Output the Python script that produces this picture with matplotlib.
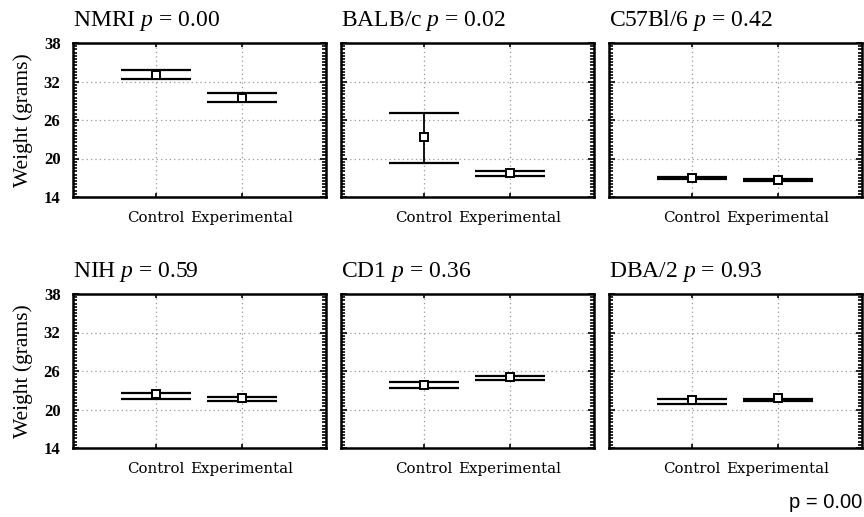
import matplotlib
matplotlib.use("Agg")
import matplotlib.pyplot as plt
from matplotlib.ticker import MultipleLocator, FixedLocator

plt.rcParams['mathtext.fontset'] = 'custom'
plt.rcParams['mathtext.rm'] = 'Liberation Serif'
plt.rcParams['mathtext.it'] = 'Liberation Serif:italic'

strains = ["NMRI", "BALB/c", "C57Bl/6", "NIH", "CD1", "DBA/2"]
pvalues = ["0.00", "0.02", "0.42", "0.59", "0.36", "0.93"]
groups = ["Control", "Experimental"]
means = [[33.0, 29.5], [23.4, 17.7], [16.9, 16.65], [22.35, 21.8], [23.85, 25.05], [21.45, 21.75]]
upper = [[33.8, 30.15], [27.15, 18.05], [17.05, 16.8], [22.6, 22.0], [24.3, 25.25], [21.6, 21.6]]
lower = [[32.35, 28.85], [19.25, 17.35], [16.8, 16.55], [21.6, 21.3], [23.4, 24.55], [20.85, 21.4]]
yticks = [14, 20, 26, 32, 38]
overall_p = "p = 0.00"

fig = plt.figure(figsize=(8.64, 5.17), dpi=100)
W, H = 864, 517
lefts = [73, 341, 609]
tops = [43, 294]
aw, ah = 253, 154

for i, strain in enumerate(strains):
    r, c = divmod(i, 3)
    ax = fig.add_axes([lefts[c] / W, 1 - (tops[r] + ah) / H, aw / W, ah / H])
    x = list(range(len(groups)))
    ax.set_xlim(-0.965, 1.975)
    ax.set_ylim(14, 38)
    ax.yaxis.set_major_locator(FixedLocator(yticks))
    ax.yaxis.set_minor_locator(MultipleLocator(0.5))
    ax.set_xticks(x)
    ax.set_xticklabels(groups, family='DejaVu Serif', fontsize=10.8)
    if c == 0:
        ax.set_yticklabels([str(t) for t in yticks], family='Liberation Serif',
                           fontsize=12, fontweight='bold')
        ax.set_ylabel("Weight (grams)", family='Liberation Serif', fontsize=15.5, labelpad=8)
    else:
        ax.set_yticklabels([])
    ax.grid(True, which='major', linestyle=(0, (1, 2.5)), color='#999999', linewidth=0.9)
    ax.tick_params(axis='both', which='both', direction='in', top=True, right=True,
                   color='black')
    ax.tick_params(axis='y', which='major', length=4, width=1.2, pad=9)
    ax.tick_params(axis='y', which='minor', length=3, width=1.2)
    ax.tick_params(axis='x', which='major', length=3, width=1.2, pad=10)
    for sp in ax.spines.values():
        sp.set_linewidth(1.8)
        sp.set_color('black')
    for j in x:
        ax.vlines(j, lower[i][j], upper[i][j], color='black', linewidth=1.3, zorder=3)
        ax.hlines([lower[i][j], upper[i][j]], j - 0.405, j + 0.405, color='black',
                  linewidth=1.6, zorder=3)
        ax.plot([j], [means[i][j]], marker='s', markersize=5.5, markerfacecolor='white',
                markeredgecolor='black', markeredgewidth=1.4, zorder=4)
    ax.text(0.0, 1.11, strain + r" $\it{p}$ = " + pvalues[i], transform=ax.transAxes,
            ha='left', va='baseline', family='Liberation Serif', fontsize=17)

fig.text(862 / W, 1 - 508 / H, overall_p, ha='right', va='baseline',
         family='Liberation Sans', fontsize=14.5)

fig.savefig("out.png", dpi=100)
